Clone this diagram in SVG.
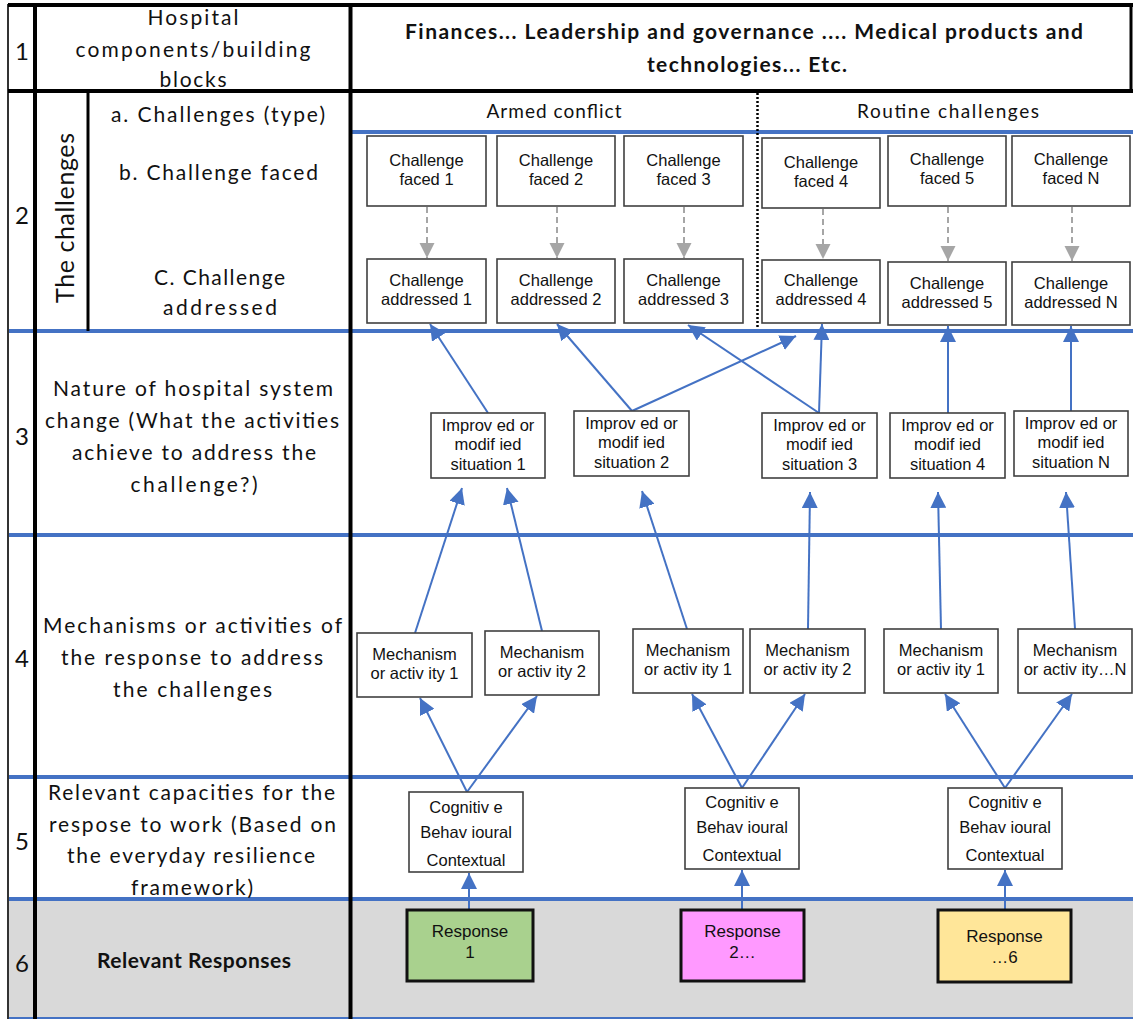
<svg xmlns="http://www.w3.org/2000/svg" width="1133" height="1019" viewBox="0 0 1133 1019">
  <style>
    .lbl { font-family: Lato, "Open Sans", sans-serif; font-size: 21px; fill: #111; text-anchor: middle; }
    .hdr { font-family: Lato, "Open Sans", sans-serif; font-size: 21px; font-weight: bold; fill: #111; text-anchor: middle; }
    .sub { font-family: Lato, "Open Sans", sans-serif; font-size: 19px; fill: #111; text-anchor: middle; }
    .num { font-family: Lato, "Open Sans", sans-serif; font-size: 24px; fill: #111; text-anchor: middle; }
    .bx { fill: #fff; stroke: #404040; stroke-width: 1.6; }
    .rsp { stroke: #111; stroke-width: 3; }
    .t { font-family: "Liberation Sans", Arial, sans-serif; font-size: 16.5px; fill: #111; text-anchor: middle; }
    .rt { font-size: 17px; }
    .sep { stroke: #4472c4; stroke-width: 4; }
    .blk { stroke: #000; stroke-width: 4; }
    .cn { fill: none; stroke: #4472c4; stroke-width: 2; marker-end: url(#ab); }
    .dn { fill: none; stroke: #a6a6a6; stroke-width: 2; stroke-dasharray: 6 4; marker-end: url(#ag); }
  </style>
  <defs>
    <marker id="ab" viewBox="0 0 16 16" refX="16" refY="8" markerWidth="16" markerHeight="16" markerUnits="userSpaceOnUse" orient="auto">
      <path d="M0,0 L16,8 L0,16 z" fill="#4472c4"/>
    </marker>
    <marker id="ag" viewBox="0 0 16 16" refX="16" refY="8" markerWidth="15" markerHeight="16" markerUnits="userSpaceOnUse" orient="auto">
      <path d="M0,0 L16,8 L0,16 z" fill="#a6a6a6"/>
    </marker>
  </defs>

  <!-- table background -->
  <rect x="0" y="0" width="1133" height="1019" fill="#fff"/>
  <rect x="8" y="899" width="1125" height="119" fill="#d9d9d9"/>

  <!-- table grid -->
  <g id="grid">
    <line class="sep" x1="350" y1="132" x2="1133" y2="132"/>
    <line class="sep" x1="8" y1="331" x2="1133" y2="331"/>
    <line class="sep" x1="8" y1="535" x2="1133" y2="535"/>
    <line class="sep" x1="8" y1="777" x2="1133" y2="777"/>
    <line class="sep" x1="8" y1="899" x2="1133" y2="899"/>
    <line x1="8" y1="1018" x2="1133" y2="1018" stroke="#4472c4" stroke-width="2"/>
    <line x1="8" y1="4" x2="8" y2="1019" stroke="#333" stroke-width="2"/>
    <line class="blk" x1="8" y1="5" x2="1133" y2="5" stroke-width="3"/>
    <line class="blk" x1="8" y1="91" x2="1133" y2="91"/>
    <line x1="1131" y1="5" x2="1131" y2="91" stroke="#000" stroke-width="3"/>
    <line class="blk" x1="35" y1="4" x2="35" y2="1019"/>
    <line class="blk" x1="350.5" y1="4" x2="350.5" y2="1019"/>
    <line x1="88" y1="91" x2="88" y2="331" stroke="#000" stroke-width="3"/>
    <line x1="757.5" y1="93" x2="757.5" y2="329" stroke="#000" stroke-width="2.5" stroke-dasharray="2 2"/>
  </g>

  <!-- row numbers -->
  <g id="row-numbers">
    <text class="num" x="22" y="60">1</text>
    <text class="num" x="22" y="224">2</text>
    <text class="num" x="22" y="445">3</text>
    <text class="num" x="22" y="667">4</text>
    <text class="num" x="22" y="850">5</text>
    <text class="num" x="22" y="972">6</text>
  </g>

  <!-- row headings -->
  <g id="row-headings">
    <text class="lbl" x="193" y="25" textLength="91" lengthAdjust="spacing">Hospital</text>
    <text class="lbl" x="193" y="57" textLength="235" lengthAdjust="spacing">components/building</text>
    <text class="lbl" x="193" y="87" textLength="67" lengthAdjust="spacing">blocks</text>

    <text class="lbl" transform="translate(74,218) rotate(-90)" x="0" y="0" style="font-size:25px" textLength="170" lengthAdjust="spacing">The challenges</text>
    <text class="lbl" x="218" y="122" textLength="214" lengthAdjust="spacing">a. Challenges (type)</text>
    <text class="lbl" x="218.5" y="180" textLength="199" lengthAdjust="spacing">b. Challenge faced</text>
    <text class="lbl" x="219.5" y="285" textLength="131" lengthAdjust="spacing">C. Challenge</text>
    <text class="lbl" x="220" y="315" textLength="114" lengthAdjust="spacing">addressed</text>

    <text class="lbl" x="193" y="396" textLength="280" lengthAdjust="spacing">Nature of hospital system</text>
    <text class="lbl" x="192" y="428" textLength="294" lengthAdjust="spacing">change (What the activities</text>
    <text class="lbl" x="194" y="460" textLength="244" lengthAdjust="spacing">achieve to address the</text>
    <text class="lbl" x="194" y="492" textLength="127" lengthAdjust="spacing">challenge?)</text>

    <text class="lbl" x="192.5" y="633" textLength="299" lengthAdjust="spacing">Mechanisms or activities of</text>
    <text class="lbl" x="192" y="665" textLength="262" lengthAdjust="spacing">the response to address</text>
    <text class="lbl" x="192.5" y="697" textLength="159" lengthAdjust="spacing">the challenges</text>

    <text class="lbl" x="191.5" y="800" textLength="287" lengthAdjust="spacing">Relevant capacities for the</text>
    <text class="lbl" x="192.5" y="832" textLength="287" lengthAdjust="spacing">respose to work (Based on</text>
    <text class="lbl" x="191" y="863" textLength="248" lengthAdjust="spacing">the everyday resilience</text>
    <text class="lbl" x="192" y="895" textLength="122" lengthAdjust="spacing">framework)</text>

    <text class="hdr" x="194" y="968" textLength="194" lengthAdjust="spacing">Relevant Responses</text>
  </g>

  <!-- column headings -->
  <g id="column-headings">
    <text class="hdr" x="744" y="39" textLength="678" lengthAdjust="spacing">Finances... Leadership and governance .... Medical products and</text>
    <text class="hdr" x="747" y="72" textLength="200" lengthAdjust="spacing">technologies... Etc.</text>
    <text class="sub" x="554" y="118" textLength="135" lengthAdjust="spacing">Armed conflict</text>
    <text class="sub" x="948" y="118" textLength="182" lengthAdjust="spacing">Routine challenges</text>
  </g>

  <!-- connectors -->
  <g id="connectors">
    <line class="dn" x1="427" y1="207" x2="427" y2="258"/>
    <line class="dn" x1="557" y1="207" x2="557" y2="258"/>
    <line class="dn" x1="684" y1="207" x2="684" y2="258"/>
    <line class="dn" x1="823" y1="209" x2="823" y2="259"/>
    <line class="dn" x1="948" y1="207" x2="948" y2="261"/>
    <line class="dn" x1="1072" y1="207" x2="1072" y2="261"/>

    <line class="cn" x1="488" y1="413" x2="430" y2="324"/>
    <line class="cn" x1="632" y1="411" x2="557" y2="324"/>
    <line class="cn" x1="632" y1="411" x2="796" y2="336"/>
    <line class="cn" x1="819" y1="413" x2="688" y2="325"/>
    <line class="cn" x1="819" y1="413" x2="822" y2="324"/>
    <line class="cn" x1="948" y1="413" x2="948" y2="326"/>
    <line class="cn" x1="1071" y1="411" x2="1071" y2="326"/>

    <line class="cn" x1="415" y1="633" x2="462" y2="488"/>
    <line class="cn" x1="542" y1="631" x2="507" y2="488"/>
    <line class="cn" x1="687" y1="629" x2="642" y2="491"/>
    <line class="cn" x1="808" y1="629" x2="810" y2="492"/>
    <line class="cn" x1="941" y1="629" x2="938" y2="492"/>
    <line class="cn" x1="1075" y1="629" x2="1066" y2="492"/>

    <line class="cn" x1="467" y1="792" x2="420" y2="698"/>
    <line class="cn" x1="467" y1="792" x2="537" y2="696"/>
    <line class="cn" x1="742" y1="788" x2="692" y2="694"/>
    <line class="cn" x1="742" y1="788" x2="805" y2="694"/>
    <line class="cn" x1="1005" y1="788" x2="945" y2="694"/>
    <line class="cn" x1="1005" y1="788" x2="1072" y2="694"/>

    <line class="cn" x1="469" y1="910" x2="469" y2="873"/>
    <line class="cn" x1="742" y1="910" x2="742" y2="870"/>
    <line class="cn" x1="1005" y1="910" x2="1005" y2="870"/>
  </g>

  <!-- challenges faced -->
  <g id="faced1"><rect class="bx" x="367" y="136" width="119" height="70"/><text class="t" x="426.5" y="166">Challenge</text><text class="t" x="426.5" y="185">faced 1</text></g>
  <g id="faced2"><rect class="bx" x="497" y="136" width="118" height="70"/><text class="t" x="556" y="166">Challenge</text><text class="t" x="556" y="185">faced 2</text></g>
  <g id="faced3"><rect class="bx" x="624" y="136" width="119" height="70"/><text class="t" x="683.5" y="166">Challenge</text><text class="t" x="683.5" y="185">faced 3</text></g>
  <g id="faced4"><rect class="bx" x="762" y="138" width="118" height="70"/><text class="t" x="821" y="168">Challenge</text><text class="t" x="821" y="187">faced 4</text></g>
  <g id="faced5"><rect class="bx" x="888" y="136" width="118" height="70"/><text class="t" x="947" y="165">Challenge</text><text class="t" x="947" y="184">faced 5</text></g>
  <g id="faced6"><rect class="bx" x="1012" y="136" width="118" height="70"/><text class="t" x="1071" y="165">Challenge</text><text class="t" x="1071" y="184">faced N</text></g>

  <!-- challenges addressed -->
  <g id="addressed1"><rect class="bx" x="367" y="259" width="119" height="64"/><text class="t" x="426.5" y="286">Challenge</text><text class="t" x="426.5" y="305">addressed 1</text></g>
  <g id="addressed2"><rect class="bx" x="497" y="259" width="118" height="64"/><text class="t" x="556" y="286">Challenge</text><text class="t" x="556" y="305">addressed 2</text></g>
  <g id="addressed3"><rect class="bx" x="624" y="259" width="119" height="64"/><text class="t" x="683.5" y="286">Challenge</text><text class="t" x="683.5" y="305">addressed 3</text></g>
  <g id="addressed4"><rect class="bx" x="762" y="260" width="118" height="63"/><text class="t" x="821" y="286">Challenge</text><text class="t" x="821" y="305">addressed 4</text></g>
  <g id="addressed5"><rect class="bx" x="888" y="262" width="118" height="63"/><text class="t" x="947" y="289">Challenge</text><text class="t" x="947" y="308">addressed 5</text></g>
  <g id="addressed6"><rect class="bx" x="1012" y="262" width="118" height="63"/><text class="t" x="1071" y="289">Challenge</text><text class="t" x="1071" y="308">addressed N</text></g>

  <!-- improved or modified situations -->
  <g id="situation1"><rect class="bx" x="431" y="413" width="114" height="65"/><text class="t" x="488" y="431">Improv ed or</text><text class="t" x="488" y="450">modif ied</text><text class="t" x="488" y="470">situation 1</text></g>
  <g id="situation2"><rect class="bx" x="574" y="411" width="115" height="65"/><text class="t" x="631.5" y="429">Improv ed or</text><text class="t" x="631.5" y="448">modif ied</text><text class="t" x="631.5" y="468">situation 2</text></g>
  <g id="situation3"><rect class="bx" x="762" y="413" width="115" height="65"/><text class="t" x="819.5" y="431">Improv ed or</text><text class="t" x="819.5" y="450">modif ied</text><text class="t" x="819.5" y="470">situation 3</text></g>
  <g id="situation4"><rect class="bx" x="890" y="413" width="115" height="65"/><text class="t" x="947.5" y="431">Improv ed or</text><text class="t" x="947.5" y="450">modif ied</text><text class="t" x="947.5" y="470">situation 4</text></g>
  <g id="situation5"><rect class="bx" x="1014" y="411" width="114" height="65"/><text class="t" x="1071" y="429">Improv ed or</text><text class="t" x="1071" y="448">modif ied</text><text class="t" x="1071" y="468">situation N</text></g>

  <!-- mechanisms or activities -->
  <g id="mechanism1"><rect class="bx" x="357" y="633" width="115" height="64"/><text class="t" x="414.5" y="660">Mechanism</text><text class="t" x="414.5" y="679">or activ ity 1</text></g>
  <g id="mechanism2"><rect class="bx" x="485" y="631" width="114" height="64"/><text class="t" x="542" y="658">Mechanism</text><text class="t" x="542" y="677">or activ ity 2</text></g>
  <g id="mechanism3"><rect class="bx" x="633" y="629" width="110" height="64"/><text class="t" x="688" y="656">Mechanism</text><text class="t" x="688" y="675">or activ ity 1</text></g>
  <g id="mechanism4"><rect class="bx" x="750" y="629" width="115" height="64"/><text class="t" x="807.5" y="656">Mechanism</text><text class="t" x="807.5" y="675">or activ ity 2</text></g>
  <g id="mechanism5"><rect class="bx" x="884" y="629" width="114" height="64"/><text class="t" x="941" y="656">Mechanism</text><text class="t" x="941" y="675">or activ ity 1</text></g>
  <g id="mechanism6"><rect class="bx" x="1018" y="629" width="114" height="64"/><text class="t" x="1075" y="656">Mechanism</text><text class="t" x="1075" y="675">or activ ity…N</text></g>

  <!-- capacities -->
  <g id="capacities1"><rect class="bx" x="409" y="792" width="114" height="80"/><text class="t" x="466" y="813">Cognitiv e</text><text class="t" x="466" y="838">Behav ioural</text><text class="t" x="466" y="866">Contextual</text></g>
  <g id="capacities2"><rect class="bx" x="685" y="788" width="114" height="81"/><text class="t" x="742" y="808">Cognitiv e</text><text class="t" x="742" y="833">Behav ioural</text><text class="t" x="742" y="861">Contextual</text></g>
  <g id="capacities3"><rect class="bx" x="948" y="788" width="114" height="81"/><text class="t" x="1005" y="808">Cognitiv e</text><text class="t" x="1005" y="833">Behav ioural</text><text class="t" x="1005" y="861">Contextual</text></g>

  <!-- responses -->
  <g id="response1"><rect class="rsp" x="407" y="910" width="126" height="71" fill="#a9d18e"/><text class="t rt" x="470" y="937">Response</text><text class="t rt" x="470" y="958">1</text></g>
  <g id="response2"><rect class="rsp" x="681" y="910" width="123" height="71" fill="#ff99ff"/><text class="t rt" x="742.5" y="937">Response</text><text class="t rt" x="742.5" y="958">2…</text></g>
  <g id="response3"><rect class="rsp" x="938" y="910" width="133" height="72" fill="#ffe699"/><text class="t rt" x="1004.5" y="942">Response</text><text class="t rt" x="1004.5" y="963">…6</text></g>
</svg>
